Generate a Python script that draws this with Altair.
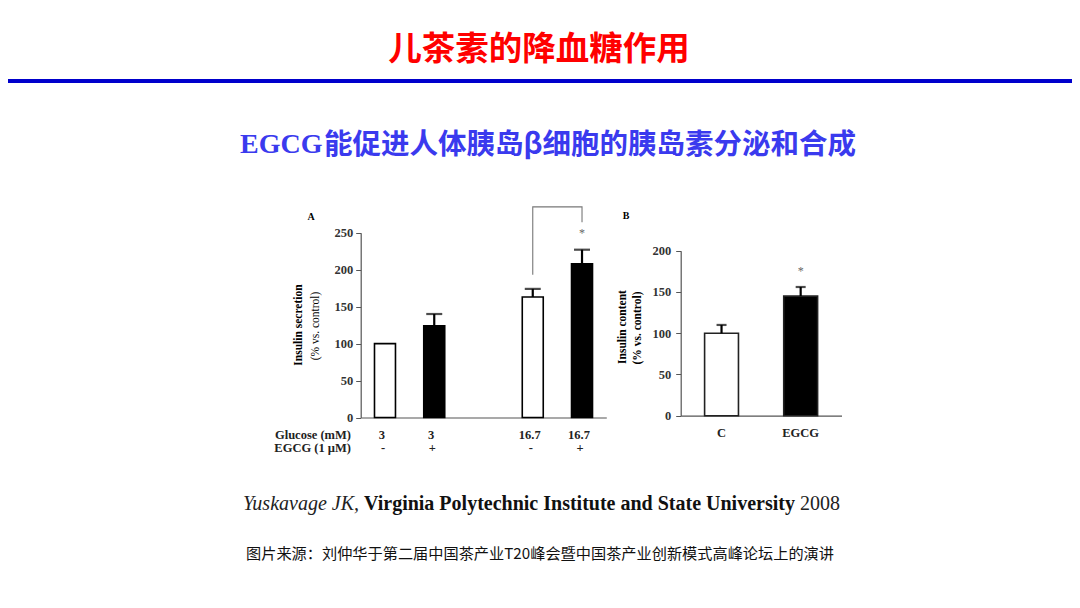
import altair as alt
import pandas as pd

# ---------------- data ----------------
bar_ids = ["3 -", "3 +", "16.7 -", "16.7 +"]
glucose = ["3", "3", "16.7", "16.7"]
egcg = ["-", "+", "-", "+"]
secretion = [100, 124, 163, 208]
secretion_err = [0, 16, 11, 19]
axis_a_ticks = [0, 50, 100, 150, 200, 250]

groups_b = ["C", "EGCG"]
content = [100, 145]
content_err = [10, 11]
axis_b_ticks = [0, 50, 100, 150, 200]

bracket_ids = ["16.7 -", "16.7 -", "16.7 +", "16.7 +"]
bracket_vals = [193, 285, 285, 264]
star_a_val = 250
star_b_val = 175

title_text = "儿茶素的降血糖作用"
subtitle_latin = "EGCG"
subtitle_cjk = "能促进人体胰岛β细胞的胰岛素分泌和合成"
cite_author = "Yuskavage JK,"
cite_inst = "Virginia Polytechnic Institute and State University"
cite_year = "2008"
source_text = "图片来源：刘仲华于第二届中国茶产业T20峰会暨中国茶产业创新模式高峰论坛上的演讲"

# ---------------- frames ----------------
dfA = pd.DataFrame({
    "id": bar_ids, "glucose": glucose, "egcg": egcg,
    "value": secretion, "err": secretion_err,
})
dfA["top"] = dfA["value"] + dfA["err"]
dfA["fill"] = ["white" if e == "-" else "black" for e in egcg]
dfAerr = dfA[dfA["err"] > 0]

dfB = pd.DataFrame({"grp": groups_b, "value": content, "err": content_err})
dfB["top"] = dfB["value"] + dfB["err"]
dfB["fill"] = ["white", "black"]

dfBr = pd.DataFrame({"id": bracket_ids, "v": bracket_vals, "o": list(range(len(bracket_ids)))})
dfStarA = pd.DataFrame({"id": [bar_ids[-1]], "v": [star_a_val]})
dfStarB = pd.DataFrame({"grp": [groups_b[-1]], "v": [star_b_val]})

SERIF = "Liberation Serif"
CJK = "Noto Sans CJK SC"
AX = "#555555"
FS = 12.5

# ---------------- panel A ----------------
xA_scale = alt.Scale(domain=[bar_ids[0], bar_ids[1], " ", bar_ids[2], bar_ids[3]],
                     range=[352.7, 598.3], paddingInner=0.574, paddingOuter=0.28)
yA_scale = alt.Scale(domain=[0, 250], range=[409.5, 224.7], nice=False)
xA_axis = alt.Axis(orient="bottom", offset=-182.5, labels=False, ticks=False, title=None,
                   grid=False, domainColor=AX, domainWidth=1.2)
yA_axis = alt.Axis(orient="left", offset=-352.7, values=axis_a_ticks, tickSize=5,
                   labelPadding=3, labelFont=SERIF, labelFontWeight="bold", labelFontSize=FS,
                   labelColor="#333", title=None, grid=False, domainColor=AX, tickColor=AX,
                   domainWidth=1.2)
xA = alt.X("id:N", scale=xA_scale, axis=xA_axis, sort=None)

def yA(field):
    return alt.Y(field, scale=yA_scale, axis=yA_axis)

barsA = alt.Chart(dfA).mark_bar(stroke="black", strokeWidth=1.6).encode(
    x=xA, y=yA("value:Q"), fill=alt.Fill("fill:N", scale=None))
errA = alt.Chart(dfAerr).mark_rule(color="black", strokeWidth=2.2).encode(
    x=xA, y=yA("value:Q"), y2="top:Q")
capA = alt.Chart(dfAerr).mark_tick(color="black", size=16, thickness=2.2).encode(
    x=xA, y=yA("top:Q"))
bracketA = alt.Chart(dfBr).mark_line(color="#777", strokeWidth=1.1, clip=False).encode(
    x=xA, y=yA("v:Q"), order="o:Q")
starA = alt.Chart(dfStarA).mark_text(text="*", font=SERIF, fontSize=12, color="#666",
                                     baseline="middle").encode(x=xA, y=yA("v:Q"))
rowGlu = alt.Chart(dfA).mark_text(font=SERIF, fontWeight="bold", fontSize=FS, color="#222",
                                  baseline="middle", dx=-3).encode(
    x=xA, y=alt.value(426.5), text="glucose:N")
rowEg = alt.Chart(dfA).mark_text(font=SERIF, fontWeight="bold", fontSize=FS, color="#222",
                                 baseline="middle", dx=-2).encode(
    x=xA, y=alt.value(439.5), text="egcg:N")

panelA = alt.layer(barsA, errA, capA, bracketA, starA, rowGlu, rowEg)

# ---------------- panel B ----------------
xB_scale = alt.Scale(domain=groups_b, range=[672.7, 833.5], paddingInner=0.572, paddingOuter=0.302)
yB_scale = alt.Scale(domain=[0, 200], range=[407.7, 242.7], nice=False)
xB_axis = alt.Axis(orient="bottom", offset=-184.3, labels=False, ticks=False, title=None,
                   grid=False, domainColor=AX, domainWidth=1.2)
yB_axis = alt.Axis(orient="left", offset=-672.7, values=axis_b_ticks, tickSize=5,
                   labelPadding=5, labelFont=SERIF, labelFontWeight="bold", labelFontSize=FS,
                   labelColor="#333", title=None, grid=False, domainColor=AX, tickColor=AX,
                   domainWidth=1.2)
xB = alt.X("grp:N", scale=xB_scale, axis=xB_axis, sort=None)

def yB(field):
    return alt.Y(field, scale=yB_scale, axis=yB_axis)

barsB = alt.Chart(dfB).mark_bar(stroke="#222", strokeWidth=1.6).encode(
    x=xB, y=yB("value:Q"), fill=alt.Fill("fill:N", scale=None))
errB = alt.Chart(dfB).mark_rule(color="black", strokeWidth=2.2).encode(
    x=xB, y=yB("value:Q"), y2="top:Q")
capB = alt.Chart(dfB).mark_tick(color="black", size=10, thickness=2.2).encode(
    x=xB, y=yB("top:Q"))
starB = alt.Chart(dfStarB).mark_text(text="*", font=SERIF, fontSize=12, color="#666",
                                     baseline="middle").encode(x=xB, y=yB("v:Q"))
labB = alt.Chart(dfB).mark_text(font=SERIF, fontWeight="bold", fontSize=FS, color="#222",
                                baseline="middle").encode(x=xB, y=alt.value(425), text="grp:N")

panelB = alt.layer(barsB, errB, capB, starB, labB)

# ---------------- decorations / titles ----------------
one = alt.Data(values=[{"a": 1}])

def txt(s, x, y, size, font=SERIF, weight="normal", color="#000", align="center",
        angle=0, style="normal"):
    kw = dict(text=s, font=font, fontSize=size, fontWeight=weight, color=color,
              align=align, baseline="middle", fontStyle=style)
    if angle:
        kw["angle"] = angle
    return alt.Chart(one).mark_text(**kw).encode(x=alt.value(x), y=alt.value(y))

deco = [
    txt(title_text, 531, 42, 33.5, font=CJK, weight="bold", color="#FF0000"),
    alt.Chart(one).mark_rule(color="#0000CC", strokeWidth=4).encode(
        x=alt.value(0), x2=alt.value(1064), y=alt.value(73)),
    txt(subtitle_latin, 232, 137, 28, font=SERIF, weight="bold", color="#3A3AEE", align="left"),
    txt(subtitle_cjk, 316, 137, 28.5, font=CJK, weight="bold", color="#3A3AEE", align="left"),
    txt("A", 303, 209, 10, weight="bold"),
    txt("B", 618, 208, 10, weight="bold"),
    txt("Insulin secretion", 291, 317, 11.5, weight="bold", angle=270),
    txt("(% vs. control)", 308, 318, 11.5, angle=270),
    txt("Insulin content", 615, 319, 11.5, weight="bold", angle=270),
    txt("(% vs. control)", 630, 320, 11.5, weight="bold", angle=270),
    txt("Glucose (mM)", 343, 426.5, FS, weight="bold", align="right", color="#222"),
    txt("EGCG (1 µM)", 343, 439.5, FS, weight="bold", align="right", color="#222"),
    txt(cite_author, 351, 496, 20, style="italic", align="right", color="#222"),
    txt(cite_inst, 356, 496, 20, weight="bold", align="left", color="#111"),
    txt(cite_year, 792, 496, 20, align="left", color="#222"),
    txt(source_text, 532, 546, 15.2, font=CJK, color="#111"),
]

chart = alt.layer(panelA, panelB, *deco).resolve_scale(
    x="independent", y="independent"
).properties(
    width=1064, height=592, autosize="none", padding=0
).configure_view(stroke=None)

chart.save("out.html", embed_options={"renderer": "svg", "actions": False})
